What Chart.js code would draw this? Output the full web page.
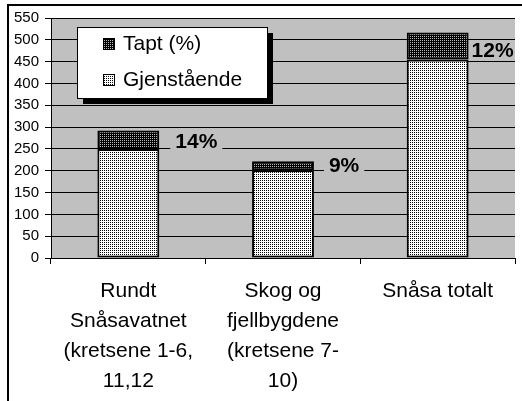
<!DOCTYPE html>
<html>
<head>
<meta charset="utf-8">
<script src="https://cdn.jsdelivr.net/npm/chart.js@4/dist/chart.umd.min.js"></script>
<style>
  html, body { margin: 0; padding: 0; background: #fff; }
  #wrap { width: 522px; height: 401px; }
</style>
</head>
<body>
<div id="wrap"><canvas id="myChart" width="522" height="401"></canvas></div>
<script>
// data
var categories = [
  ['Rundt', 'Snåsavatnet', '(kretsene 1-6,', '11,12'],
  ['Skog og', 'fjellbygdene', '(kretsene 7-', '10)'],
  ['Snåsa totalt']
];
var gjenstaende = [250, 201, 455];
var tapt = [42, 21, 62];
var taptLabels = ['14%', '9%', '12%'];

// stipple patterns like the old Excel fills
function makePattern(bg, dot) {
  var c = document.createElement('canvas');
  c.width = 2; c.height = 2;
  var g = c.getContext('2d');
  g.fillStyle = bg;
  g.fillRect(0, 0, 2, 2);
  g.fillStyle = dot;
  g.fillRect(0, 0, 1, 1);
  return document.getElementById('myChart').getContext('2d').createPattern(c, 'repeat');
}
var lightFill = makePattern('#ffffff', '#000000');
var darkFill = makePattern('#000000', '#bdbdbd');

var framePlugin = {
  id: 'frame',
  beforeDraw: function(chart) {
    var c = chart.ctx, a = chart.chartArea;
    c.save();
    c.fillStyle = '#c0c0c0';
    c.fillRect(a.left, a.top, a.right - a.left, a.bottom - a.top);
    c.strokeStyle = '#000';
    c.lineWidth = 2;
    c.beginPath();
    c.moveTo(8, 401);
    c.lineTo(8, 5);
    c.lineTo(522, 5);
    c.stroke();
    c.restore();
  }
};

// percent labels beside the bars (hand placed in the original)
var labelPlugin = {
  id: 'pctLabels',
  afterDatasetsDraw: function(chart) {
    var c = chart.ctx;
    var meta = chart.getDatasetMeta(1);
    var shift = [[16, 2], [15, 0], [3, 5]];
    c.save();
    c.font = 'bold 21px "Liberation Sans", Arial, sans-serif';
    c.textBaseline = 'middle';
    c.textAlign = 'left';
    meta.data.forEach(function(bar, i) {
      var x = bar.x + bar.width / 2 + shift[i][0];
      var y = (bar.y + bar.base) / 2 + shift[i][1];
      var w = c.measureText(taptLabels[i]).width;
      if (i < 2) {
        c.fillStyle = '#c0c0c0';
        c.fillRect(x - 5, y - 12, w + 10, 24);
      }
      c.fillStyle = '#000';
      c.fillText(taptLabels[i], x, y);
    });
    c.restore();
  }
};

// boxed legend with drop shadow inside the plot
var legendPlugin = {
  id: 'boxLegend',
  afterDraw: function(chart) {
    var c = chart.ctx, a = chart.chartArea;
    var x = a.left + 26, y = a.top + 9, w = 190, h = 71;
    c.save();
    c.fillStyle = '#000';
    c.fillRect(x + 6, y + 6, w, h);
    c.fillStyle = '#fff';
    c.fillRect(x, y, w, h);
    c.strokeStyle = '#000';
    c.lineWidth = 1;
    c.strokeRect(x + 0.5, y + 0.5, w, h);
    var items = [chart.data.datasets[1], chart.data.datasets[0]];
    c.font = '21px "Liberation Sans", Arial, sans-serif';
    c.textBaseline = 'middle';
    items.forEach(function(ds, i) {
      var cy = y + 17 + i * 36;
      c.fillStyle = ds.backgroundColor;
      c.fillRect(x + 26, cy - 6, 12, 12);
      c.strokeStyle = '#000';
      c.lineWidth = 1;
      c.strokeRect(x + 26.5, cy - 5.5, 11, 11);
      c.fillStyle = '#000';
      c.fillText(ds.label, x + 46, cy);
    });
    c.restore();
  }
};

var ctx = document.getElementById('myChart').getContext('2d');
var myChart = new Chart(ctx, {
  type: 'bar',
  data: {
    labels: categories,
    datasets: [{
      label: 'Gjenstående',
      data: gjenstaende,
      backgroundColor: lightFill,
      borderColor: '#000',
      borderWidth: 2,
      borderSkipped: false
    }, {
      label: 'Tapt (%)',
      data: tapt,
      backgroundColor: darkFill,
      borderColor: '#000',
      borderWidth: 2,
      borderSkipped: false
    }]
  },
  options: {
    responsive: false,
    animation: false,
    layout: { padding: { left: 0, top: 18, right: 7, bottom: 0 } },
    datasets: { bar: { categoryPercentage: 1, barPercentage: 0.4 } },
    plugins: {
      legend: { display: false },
      tooltip: { enabled: false }
    },
    scales: {
      x: {
        stacked: true,
        afterFit: function(s) { s.height = 143; },
        grid: { offset: true, drawOnChartArea: false, color: '#000', tickLength: 6 },
        border: { color: '#000', width: 1 },
        ticks: {
          color: '#000',
          maxRotation: 0,
          padding: 12,
          font: { family: '"Liberation Sans", Arial, sans-serif', size: 21, lineHeight: 1.43 }
        }
      },
      y: {
        stacked: true,
        min: 0,
        max: 550,
        afterFit: function(s) { s.width = 51; },
        grid: { color: '#000', tickLength: 6 },
        border: { color: '#000', width: 1 },
        ticks: {
          stepSize: 50,
          autoSkip: false,
          color: '#000',
          padding: 6,
          font: { family: '"Liberation Sans", Arial, sans-serif', size: 15 }
        }
      }
    }
  },
  plugins: [framePlugin, labelPlugin, legendPlugin]
});
</script>
</body>
</html>
